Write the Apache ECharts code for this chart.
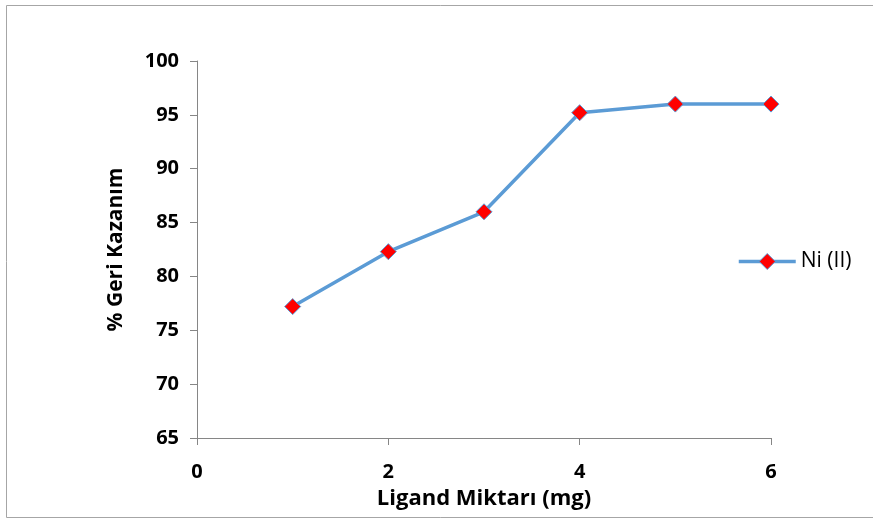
<!DOCTYPE html>
<html><head><meta charset="utf-8">
<script src="https://cdn.jsdelivr.net/npm/echarts@6/dist/echarts.min.js"></script>
<style>html,body{margin:0;padding:0;background:#fff}#c{width:873px;height:522px}</style>
</head><body><div id="c"></div>
<script>
const xValues = [1, 2, 3, 4, 5, 6];
const yValues = [77.2, 82.3, 86.0, 95.2, 96.0, 96.0];
const seriesName = 'Ni (II)';
const xTitle = 'Ligand Miktarı (mg)';
const yTitle = '% Geri Kazanım';

const chart = echarts.init(document.getElementById('c'));
const font = '"Open Sans", Lato, sans-serif';
chart.setOption({
  animation: false,
  backgroundColor: '#fff',
  graphic: [{type:'rect', shape:{x:6.5,y:5.5,width:880,height:512}, style:{fill:'none', stroke:'#a6a6a6', lineWidth:1}, silent:true}],
  grid: {left:197, right:102, top:61, bottom:84},
  legend: {
    data:[seriesName], left:737, top:251, padding:0, itemWidth:57, itemHeight:20, itemGap:3,
    lineStyle:{width:3.5},
    itemStyle:{color:'#FF0000', borderColor:'#5B9BD5', borderWidth:1},
    textStyle:{fontFamily:font, fontSize:21, color:'#000'}
  },
  xAxis: {
    type:'value', min:0, max:6, interval:2,
    name:xTitle, nameLocation:'middle', nameGap:50,
    nameTextStyle:{fontFamily:font, fontSize:22, fontWeight:'bold', color:'#000'},
    axisLine:{lineStyle:{color:'#868686', width:1}},
    axisTick:{show:true, inside:false, length:7, lineStyle:{color:'#868686'}},
    axisLabel:{fontFamily:font, fontSize:20, fontWeight:'bold', color:'#000', margin:24},
    splitLine:{show:false}
  },
  yAxis: {
    type:'value', min:65, max:100, interval:5,
    name:yTitle, nameLocation:'middle', nameGap:70, nameRotate:90,
    nameTextStyle:{fontFamily:font, fontSize:21, fontWeight:'bold', color:'#000'},
    axisLine:{show:true, lineStyle:{color:'#868686', width:1}},
    axisTick:{show:true, inside:false, length:7, lineStyle:{color:'#868686'}},
    axisLabel:{fontFamily:font, fontSize:20, fontWeight:'bold', color:'#000', margin:18},
    splitLine:{show:false}
  },
  series: [{
    name:seriesName, type:'line',
    data: xValues.map((x,i)=>[x, yValues[i]]),
    lineStyle:{color:'#5B9BD5', width:3.5},
    symbol:'diamond', symbolSize:16,
    itemStyle:{color:'#FF0000', borderColor:'#5B9BD5', borderWidth:1}
  }]
});
</script></body></html>
